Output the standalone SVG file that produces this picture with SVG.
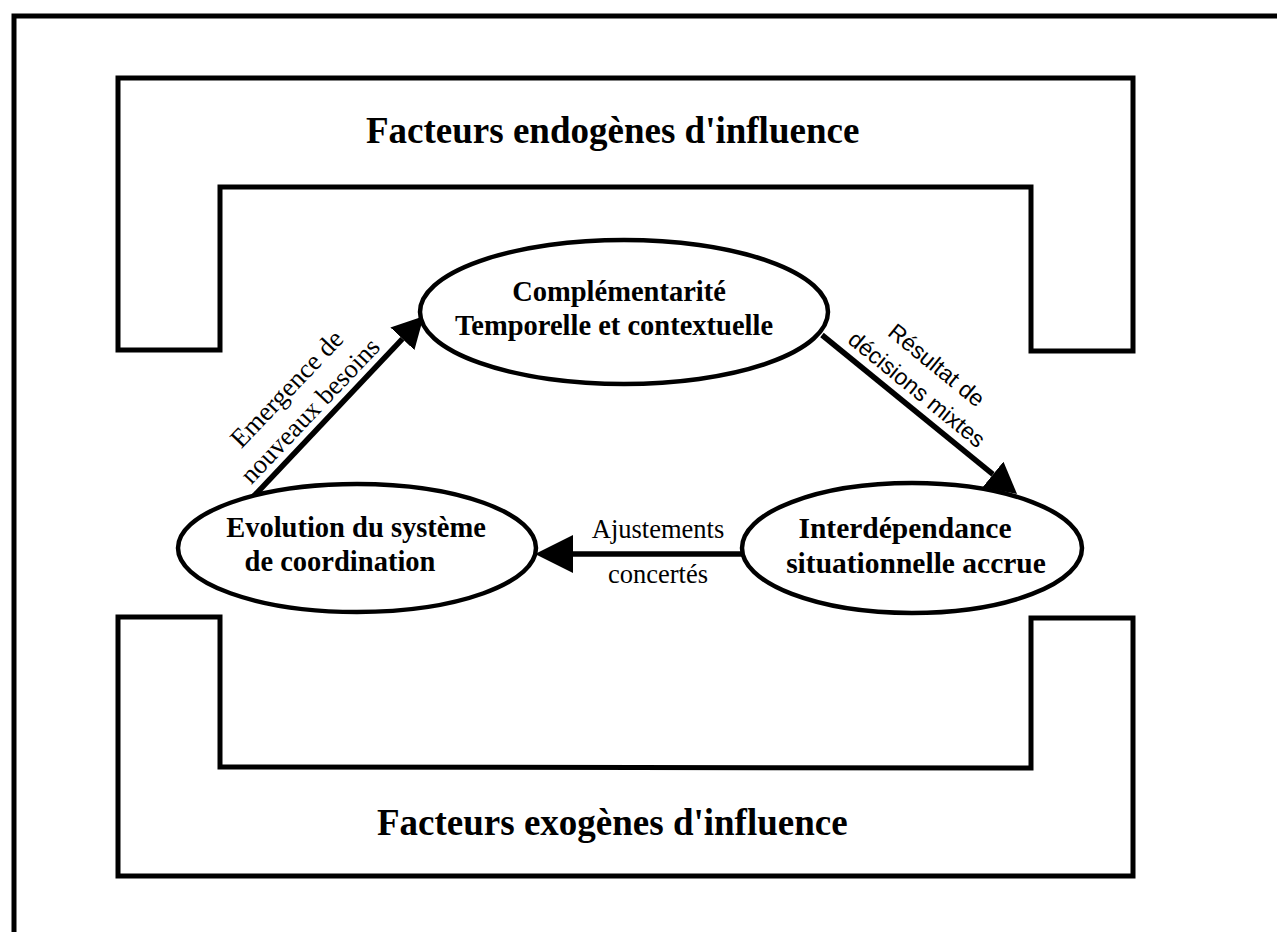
<svg xmlns="http://www.w3.org/2000/svg" width="1277" height="932" viewBox="0 0 1277 932">
  <style>
    .frame { fill: none; stroke: #000; stroke-width: 5; stroke-linejoin: miter; }
    .node { fill: #fff; stroke: #000; stroke-width: 4.5; }
    .edge { fill: none; stroke: #000; stroke-width: 5.5; }
    .title { font-family: "Liberation Serif", "Times New Roman", serif; font-weight: bold; font-size: 37px; fill: #000; }
    .label { font-family: "Liberation Serif", "Times New Roman", serif; font-weight: bold; font-size: 28.5px; fill: #000; text-anchor: middle; }
    .label-lg { font-size: 29.5px; }
    .serif { font-family: "Liberation Serif", "Times New Roman", serif; font-size: 26.5px; fill: #000; text-anchor: middle; }
    .sans { font-family: "Liberation Sans", Arial, sans-serif; font-size: 23px; fill: #000; text-anchor: middle; }
  </style>
  <defs>
    <marker id="head" viewBox="0 0 31 33" markerWidth="31" markerHeight="33" refX="0" refY="16.5" markerUnits="userSpaceOnUse" orient="auto">
      <path d="M0,0 L31,16.5 L0,33 Z" fill="#000"/>
    </marker>
    <marker id="head-lg" viewBox="0 0 38 38" markerWidth="38" markerHeight="38" refX="0" refY="19" markerUnits="userSpaceOnUse" orient="auto">
      <path d="M0,0 L38,19 L0,38 Z" fill="#000"/>
    </marker>
  </defs>

  <!-- outer page frame (open to the right and bottom) -->
  <rect class="frame" x="14" y="16" width="1300" height="960"/>

  <!-- endogenous factors band -->
  <g id="endogenes">
    <polygon class="frame" points="118,78 1133,78 1133,351 1031,351 1031,187 220,187 220,350 118,350"/>
    <text class="title" x="366" y="143">Facteurs endogènes d'influence</text>
  </g>

  <!-- exogenous factors band -->
  <g id="exogenes">
    <polygon class="frame" points="118,617 220,617 220,767 1031,768 1031,618 1133,618 1133,876 118,876"/>
    <text class="title" x="377" y="835">Facteurs exogènes d'influence</text>
  </g>

  <!-- connectors -->
  <g id="connectors">
    <line class="edge" x1="253" y1="497" x2="402.4" y2="338.8" marker-end="url(#head)"/>
    <line class="edge" x1="822" y1="335" x2="993" y2="474.4" marker-end="url(#head)"/>
    <line class="edge" x1="742" y1="554" x2="573" y2="554" marker-end="url(#head-lg)"/>

    <g transform="translate(338,407) rotate(-46.5)">
      <text class="serif" x="-22" y="-41">Emergence de</text>
      <text class="serif" x="-22" y="-9">nouveaux besoins</text>
    </g>
    <g transform="translate(919.5,414.5) rotate(39.2)">
      <text class="sans" x="-18" y="-41">Résultat de</text>
      <text class="sans" x="-18" y="-10">décisions mixtes</text>
    </g>
    <text class="serif" x="658" y="538">Ajustements</text>
    <text class="serif" x="658" y="583">concertés</text>
  </g>

  <g id="complementarite">
    <ellipse class="node" cx="624" cy="312" rx="204" ry="72"/>
    <text class="label" x="619" y="301">Complémentarité</text>
    <text class="label" x="614" y="335">Temporelle et contextuelle</text>
  </g>

  <g id="interdependance">
    <ellipse class="node" cx="912" cy="548" rx="170" ry="65"/>
    <text class="label label-lg" x="905" y="538">Interdépendance</text>
    <text class="label label-lg" x="916" y="573">situationnelle accrue</text>
  </g>

  <g id="evolution">
    <ellipse class="node" cx="357" cy="548" rx="179" ry="64"/>
    <text class="label" x="356" y="537">Evolution du système</text>
    <text class="label" x="340" y="571">de coordination</text>
  </g>
</svg>
